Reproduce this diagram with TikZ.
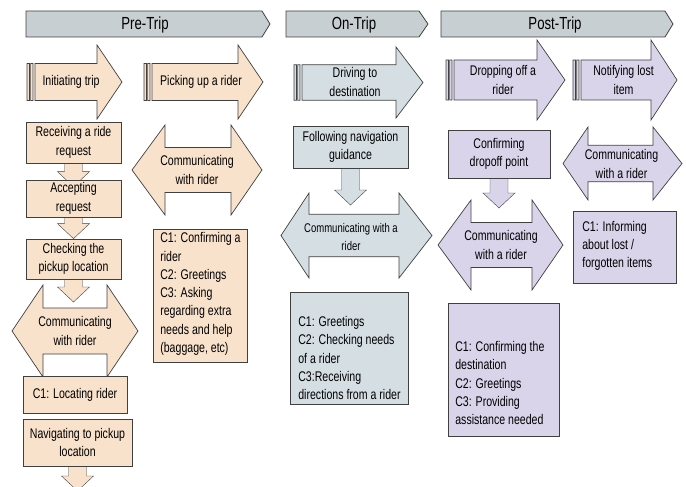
\documentclass[tikz,border=0pt]{standalone}
\usepackage{fontspec}
\setmainfont{Liberation Sans}[FakeStretch=0.755]
\usetikzlibrary{calc, backgrounds}

\definecolor{prefill}{HTML}{F8E2CC}
\definecolor{onfill}{HTML}{D5DFE3}
\definecolor{postfill}{HTML}{D9D4EA}
\definecolor{barfill}{HTML}{C8CFD2}
\definecolor{linec}{HTML}{404040}

% striped arrow: fill, stripe x, head base x, tip x, head top y, head bottom y
\newcommand{\striparrow}[6]{%
  \draw[shp, fill=#1] let \n1={(#5+#6)/2}, \n2={(#6-#5)/4} in
    (#2+8,\n1-\n2) -- (#3,\n1-\n2) -- (#3,#5) -- (#4,\n1) -- (#3,#6)
    -- (#3,\n1+\n2) -- (#2+8,\n1+\n2) -- cycle
    (#2,\n1-\n2) rectangle (#2+2.4,\n1+\n2)
    (#2+3.6,\n1-\n2) rectangle (#2+6,\n1+\n2);}
% double arrow: fill, left tip x, body left x, body right x, right tip x, head top y, head bottom y
\newcommand{\dblarrow}[7]{%
  \draw[shp, fill=#1] let \n1={(#6+#7)/2}, \n2={(#7-#6)/4} in
    (#2,\n1) -- (#3,#6) -- (#3,\n1-\n2) -- (#4,\n1-\n2) -- (#4,#6) -- (#5,\n1)
    -- (#4,#7) -- (#4,\n1+\n2) -- (#3,\n1+\n2) -- (#3,#7) -- cycle;}

\begin{document}
\begin{tikzpicture}[
    x=1pt, y=-1pt,
    line width=0.7pt,
    shp/.style={draw=linec, line join=miter},
    bar/.style={draw=linec, fill=barfill, line width=0.8pt},
    hdr/.style={inner sep=0pt, font=\fontsize{17.5}{20}\selectfont},
    lbl/.style={inner sep=0pt, align=center, font=\fontsize{14}{18.3}\selectfont},
    box/.style={draw=linec, fill=#1, rectangle, inner sep=0pt, align=center,
      font=\fontsize{14}{18.3}\selectfont},
    blockdn/.style={draw=linec, fill=#1, to path={
      let \p1=(\tikztostart), \p2=(\tikztotarget) in
      (\x1-9pt,\y1) -- (\x1-9pt,\y2+15pt) -- (\x1-16pt,\y2+15pt) -- (\x1,\y2)
      -- (\x1+16pt,\y2+15pt) -- (\x1+9pt,\y2+15pt) -- (\x1+9pt,\y1) -- cycle}}
  ]
  \useasboundingbox (0,0) rectangle (686,487);
  \clip (0,0) rectangle (686,487);

  % --- Pre-Trip ---
  \draw[bar] (26,11) -- (262,11) -- (270,24) -- (262,37) -- (26,37) -- cycle;
  \node[hdr] (pretrip) at (145,24.5) {Pre-Trip};

  \striparrow{prefill}{27}{97}{122}{45}{119}
  \node[lbl] (init) at (71,82) {Initiating trip};
  \striparrow{prefill}{144}{238}{263}{45}{119}
  \node[lbl] (pick) at (201,82) {Picking up a rider};

  \node[box=prefill, minimum width=95pt, minimum height=41pt] (recv) at (73.5,142.5) {Receiving a ride\\request};
  \node[box=prefill, minimum width=95pt, minimum height=37pt] (acc) at (73.5,198.5) {Accepting\\request};
  \node[box=prefill, minimum width=95pt, minimum height=40pt] (chk) at (73.5,259) {Checking the\\pickup location};
  \dblarrow{prefill}{12}{43}{107}{138}{285}{377}
  \node[lbl] (lcomm) at (75,331) {Communicating\\with rider};
  \coordinate (lcommtip) at (73.5,302);
  \node[box=prefill, minimum width=104pt, minimum height=37pt] (loc) at (75,394.5) {C1: Locating rider};
  \node[box=prefill, minimum width=109pt, minimum height=47pt] (nav) at (77.5,442.5) {Navigating to pickup\\location};
  \coordinate (navend) at (77.5,491);

  \dblarrow{prefill}{132}{165}{231}{262}{125}{215}
  \node[lbl] (rcomm) at (197,170) {Communicating\\with rider};
  \node[box=prefill, minimum width=94pt, minimum height=133pt] (prebox) at (200,295.5) {};
  \node[lbl, align=left, anchor=west] (pretxt) at (160,294) {C1: Confirming a\\rider\\C2: Greetings\\C3: Asking\\regarding extra\\needs and help\\(baggage, etc)};

  % --- On-Trip ---
  \draw[bar] (286,11) -- (419,11) -- (428,24) -- (419,37) -- (286,37) -- cycle;
  \node[hdr] (ontrip) at (354,24.5) {On-Trip};

  \striparrow{onfill}{294}{396}{423}{47}{118}
  \node[lbl] (drive) at (355,82) {Driving to\\destination};
  \node[box=onfill, minimum width=115pt, minimum height=42pt] (follow) at (350.5,147) {Following navigation\\guidance};
  \dblarrow{onfill}{281}{309}{399}{432}{193}{278}
  \node[lbl, font=\fontsize{12.6}{18.3}\selectfont] (ocomm) at (351,237) {Communicating with a\\rider};
  \coordinate (ocommtip) at (350.5,205);
  \node[box=onfill, minimum width=118pt, minimum height=112pt] (onbox) at (349,348) {};
  \node[lbl, align=left, anchor=west] (ontxt) at (298,358) {C1: Greetings\\C2: Checking needs\\of a rider\\C3:Receiving\\directions from a rider};

  % --- Post-Trip ---
  \draw[bar] (441,11) -- (665,11) -- (673,24) -- (665,37) -- (441,37) -- cycle;
  \node[hdr] (posttrip) at (555,24.5) {Post-Trip};

  \striparrow{postfill}{446}{537}{565}{40}{120}
  \node[lbl] (drop) at (503,80) {Dropping off a\\rider};
  \striparrow{postfill}{573}{651}{677}{40}{120}
  \node[lbl] (notif) at (623.5,80) {Notifying lost\\item};

  \node[box=postfill, minimum width=102pt, minimum height=48pt] (confd) at (499,154) {Confirming\\dropoff point};
  \dblarrow{postfill}{438}{471}{532}{563}{200}{290}
  \node[lbl] (pcomm) at (501,245) {Communicating\\with a rider};
  \coordinate (pcommtip) at (499,208);
  \node[box=postfill, minimum width=111pt, minimum height=133pt] (destbox) at (503.5,369.5) {};
  \node[lbl, align=left, anchor=west] (desttxt) at (455,383) {C1: Confirming the\\destination\\C2: Greetings\\C3: Providing\\assistance needed};

  \dblarrow{postfill}{563}{588}{653}{682}{127}{200}
  \node[lbl] (lcomm2) at (621.5,164) {Communicating\\with a rider};
  \node[box=postfill, minimum width=103pt, minimum height=72pt] (lostbox) at (624.5,247) {};
  \node[lbl, align=left, anchor=west] (losttxt) at (582,246) {C1: Informing\\about lost /\\forgotten items};

  % --- block arrows ---
  \begin{scope}[on background layer]
    \draw[blockdn=prefill] (recv.south) to ($(acc.north)+(0,7)$);
    \draw[blockdn=prefill] (acc.south) to (chk.north);
    \draw[blockdn=prefill] (chk.south) to (lcommtip);
    \draw[blockdn=prefill] (nav.south) to (navend);
    \draw[blockdn=onfill] (follow.south) to (ocommtip);
    \draw[blockdn=postfill] (confd.south) to (pcommtip);
  \end{scope}
\end{tikzpicture}
\end{document}
